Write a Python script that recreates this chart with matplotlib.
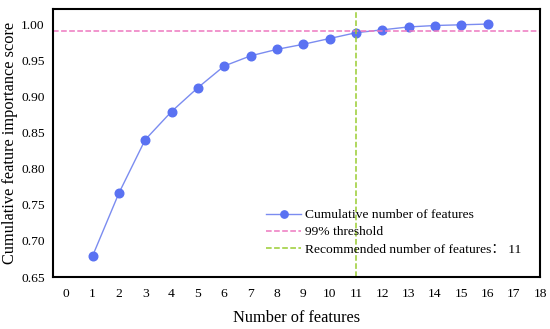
import numpy as np
import matplotlib.pyplot as plt

plt.rcParams['font.family'] = ['Liberation Serif', 'Noto Sans CJK SC']

n_features = [1, 2, 3, 4, 5, 6, 7, 8, 9, 10, 11, 12, 13, 14, 15, 16]
cum_score = [0.679, 0.766, 0.840, 0.879, 0.912, 0.942, 0.956, 0.965, 0.972,
             0.980, 0.988, 0.992, 0.996, 0.998, 0.999, 1.000]
threshold = 0.99
recommended = 11
xticks = list(range(0, 19))
yticks = [0.65, 0.70, 0.75, 0.80, 0.85, 0.90, 0.95, 1.00]

fig = plt.figure(figsize=(5.5, 3.29), dpi=100)
ax = fig.add_axes([0.0964, 0.158, 0.886, 0.815])

ax.plot(n_features, cum_score, color='#7b8cf0', lw=1, marker='o', ms=6.2,
        mfc='#5a72f2', mec='#5a72f2', label='Cumulative number of features')
ax.axhline(threshold, color='#ee78c0', ls='--', lw=1.1, label='99% threshold')
ax.axvline(recommended, color='#9acd32', ls='--', lw=1.1,
           label='Recommended number of features： 11')

ax.set_xlim(-0.5, 18)
ax.set_ylim(0.65, 1.021)
ax.set_xticks(xticks)
ax.set_yticks(yticks)
ax.set_yticklabels([f'{v:.2f}' for v in yticks])
ax.tick_params(length=0, labelsize=9.7)
ax.tick_params(axis='y', pad=6)
ax.tick_params(axis='x', pad=8)
for s in ax.spines.values():
    s.set_linewidth(1.5)

ax.set_xlabel('Number of features', fontsize=11.8, labelpad=7)
ax.set_ylabel('Cumulative feature importance score', fontsize=11.8, labelpad=2)

ax.legend(loc='lower right', bbox_to_anchor=(0.985, 0.035), frameon=False,
          fontsize=9.7, handlelength=2.6, labelspacing=0.35, handletextpad=0.25,
          markerscale=0.85)

fig.savefig('out.png', dpi=100)
